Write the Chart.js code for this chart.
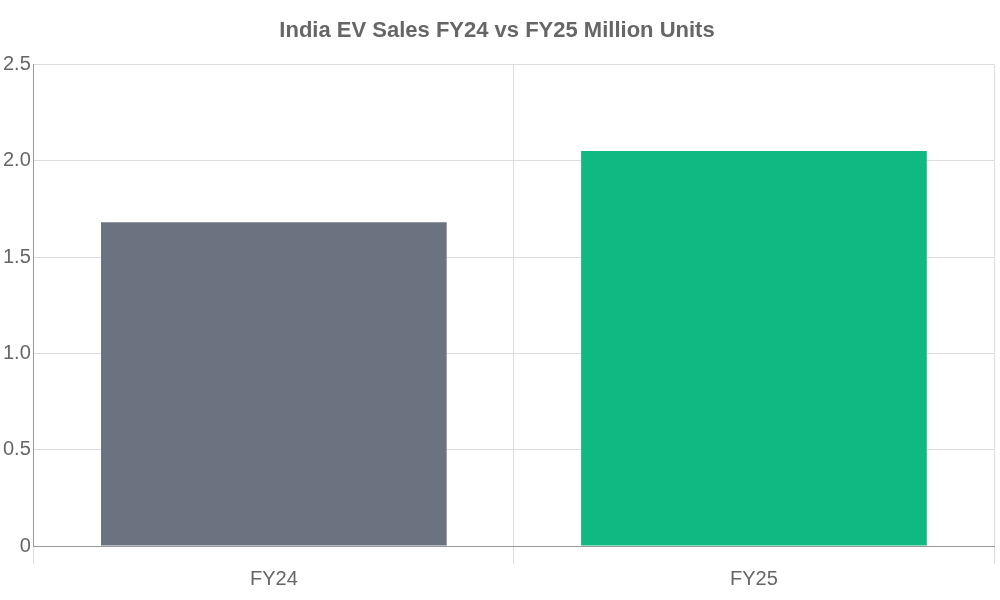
<!DOCTYPE html>
<html>
<head>
<script src="https://cdn.jsdelivr.net/npm/chart.js@4"></script>
<style>body{margin:0;background:#fff}#wrap{width:1000px;height:600px}</style>
</head>
<body>
<div id="wrap"><canvas id="c"></canvas></div>
<script>
const categories = ['FY24', 'FY25'];
const sales = [1.68, 2.05];
const barColors = ['#6b7280', '#10b981'];
const yTicks = [0, 0.5, 1.0, 1.5, 2.0, 2.5];

Chart.defaults.font.family = '"Liberation Sans", Arial, sans-serif';
Chart.defaults.color = '#666';

new Chart(document.getElementById('c').getContext('2d'), {
  type: 'bar',
  data: {
    labels: categories,
    datasets: [{
      data: sales,
      backgroundColor: barColors,
      borderWidth: 0
    }]
  },
  options: {
    responsive: true,
    maintainAspectRatio: false,
    animation: false,
    layout: { padding: { right: 6, bottom: 6 } },
    plugins: {
      legend: { display: false },
      tooltip: { enabled: false },
      title: {
        display: true,
        text: 'India EV Sales FY24 vs FY25 Million Units',
        font: { size: 22, weight: 'bold' },
        color: '#666',
        padding: { top: 18, bottom: 20 }
      }
    },
    scales: {
      y: {
        min: 0,
        max: 2.5,
        afterBuildTicks: axis => { axis.ticks = yTicks.map(v => ({ value: v })); },
        ticks: {
          font: { size: 20 },
          callback: v => v === 0 ? '0' : v.toFixed(1)
        },
        grid: { color: '#ddd', drawTicks: false },
        border: { color: '#999' }
      },
      x: {
        ticks: { font: { size: 20 } },
        grid: { color: '#ddd', tickLength: 18, offset: true },
        border: { color: '#999' }
      }
    }
  }
});
</script>
</body>
</html>
